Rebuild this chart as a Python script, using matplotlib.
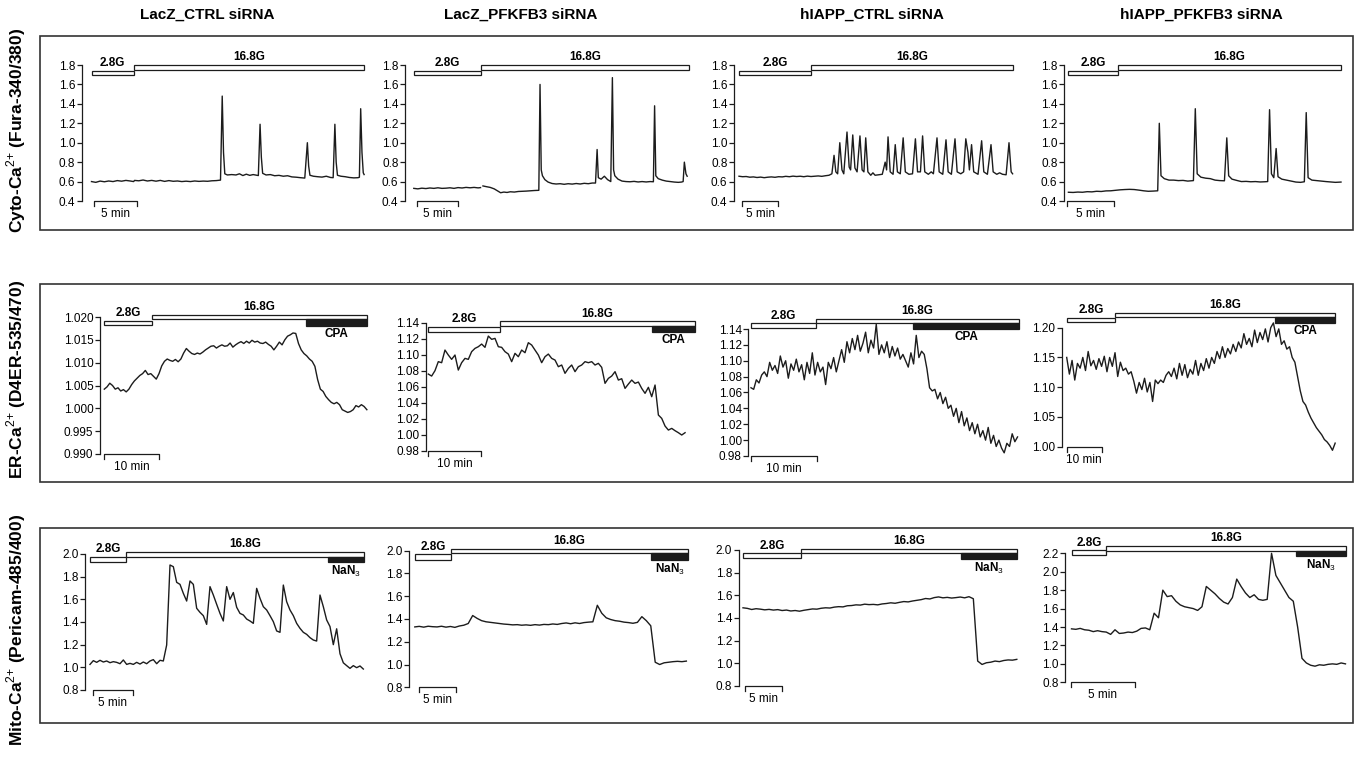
import numpy as np
import matplotlib
matplotlib.use("Agg")
import matplotlib.pyplot as plt
from matplotlib.patches import Rectangle

plt.rcParams["font.family"] = ["Liberation Sans", "DejaVu Sans"]
plt.rcParams["mathtext.fontset"] = "custom"
plt.rcParams["mathtext.rm"] = "Liberation Sans"
plt.rcParams["mathtext.bf"] = "Liberation Sans:bold"

W, H = 1362, 757

# ---------------- labels ----------------
COLUMN_TITLES = ["LacZ_CTRL siRNA", "LacZ_PFKFB3 siRNA", "hIAPP_CTRL siRNA", "hIAPP_PFKFB3 siRNA"]
ROW_LABELS = [r"Cyto-Ca$^{2{+}}$ (Fura-340/380)", r"ER-Ca$^{2{+}}$ (D4ER-535/470)",
              r"Mito-Ca$^{2{+}}$ (Pericam-485/400)"]
DRUG_LABELS = [None, "CPA", r"NaN$_3$"]
SCALE_MIN = [5, 10, 5]

# ---------------- y ticks ----------------
CYTO_TICKS = [0.4, 0.6, 0.8, 1.0, 1.2, 1.4, 1.6, 1.8]
ER_TICKS_A = [0.990, 0.995, 1.000, 1.005, 1.010, 1.015, 1.020]
ER_TICKS_B = [0.98, 1.00, 1.02, 1.04, 1.06, 1.08, 1.10, 1.12, 1.14]
ER_TICKS_C = [1.00, 1.05, 1.10, 1.15, 1.20]
MITO_TICKS_A = [0.8, 1.0, 1.2, 1.4, 1.6, 1.8, 2.0]
MITO_TICKS_B = [0.8, 1.0, 1.2, 1.4, 1.6, 1.8, 2.0, 2.2]

# ---------------- protocol timing (min): 2.8G end, bar end, drug start ----------------
CYTO_G28_END = [4.9, 8.33, 10.0, 5.3]
CYTO_BAR_END = [31.7, 34.2, 38.0, 29.0]
ER_G28_END = [8.8, 13.6, 9.8, 13.9]
ER_BAR_END = [48.0, 50.9, 40.4, 76.7]
ER_CPA_START = [36.8, 42.6, 24.5, 59.6]
MITO_G28_END = [4.6, 5.0, 7.8, 2.7]
MITO_BAR_END = [34.8, 37.3, 37.0, 21.15]
MITO_NAN3_START = [30.2, 32.3, 29.4, 17.3]

# ---------------- cytosolic traces (time min, ratio) ----------------
CYTO_LACZ_CTRL = [
    (0.0, 0.600), (0.5, 0.592), (1.0, 0.605), (1.5, 0.598), (2.0, 0.606), (2.5, 0.600),
    (3.0, 0.610), (3.5, 0.604), (4.0, 0.612), (4.5, 0.606), (4.9, 0.600), (5.0, 0.612),
    (5.5, 0.608), (6.0, 0.616), (6.5, 0.606), (7.0, 0.612), (7.5, 0.604), (8.0, 0.612),
    (8.5, 0.602), (9.0, 0.610), (9.5, 0.603), (10.0, 0.606), (10.5, 0.600), (11.0, 0.604),
    (11.5, 0.600), (12.0, 0.606), (12.5, 0.602), (13.0, 0.605), (13.5, 0.603), (14.0, 0.608),
    (14.5, 0.610), (15.0, 0.615), (15.2, 1.480), (15.35, 0.900), (15.5, 0.680), (15.8, 0.668),
    (16.3, 0.672), (16.8, 0.668), (17.2, 0.680), (17.6, 0.662), (18.0, 0.676), (18.4, 0.664),
    (18.8, 0.672), (19.4, 0.662), (19.6, 1.190), (19.75, 0.850), (19.9, 0.685), (20.3, 0.668),
    (20.8, 0.672), (21.3, 0.660), (21.8, 0.664), (22.3, 0.655), (22.8, 0.660), (23.3, 0.648),
    (23.8, 0.645), (24.3, 0.640), (24.8, 0.636), (25.1, 1.000), (25.25, 0.760), (25.4, 0.665),
    (25.8, 0.655), (26.3, 0.650), (26.8, 0.646), (27.3, 0.655), (27.8, 0.642), (28.1, 0.640),
    (28.3, 1.190), (28.45, 0.800), (28.6, 0.665), (29.0, 0.655), (29.5, 0.650), (30.0, 0.642),
    (30.5, 0.638), (31.0, 0.640), (31.15, 0.645), (31.3, 1.350), (31.45, 0.900), (31.6, 0.690),
    (31.7, 0.672),
]
CYTO_LACZ_PFKFB3 = [
    (0.0, 0.530), (0.5, 0.525), (1.0, 0.532), (1.5, 0.528), (2.0, 0.534), (2.5, 0.530),
    (3.0, 0.536), (3.5, 0.530), (4.0, 0.532), (4.5, 0.536), (5.0, 0.530), (5.5, 0.538),
    (6.0, 0.534), (6.5, 0.540), (7.0, 0.536), (7.5, 0.540), (8.0, 0.535), (8.3, 0.538),
    (8.45, np.nan), (8.6, 0.555), (9.0, 0.548), (9.5, 0.540), (10.0, 0.525), (10.4, 0.505),
    (10.8, 0.485), (11.2, 0.492), (11.6, 0.488), (12.0, 0.495), (12.5, 0.492), (13.0, 0.498),
    (13.5, 0.500), (14.0, 0.502), (14.5, 0.505), (15.0, 0.508), (15.55, 0.510), (15.7, 1.600),
    (15.85, 0.720), (16.0, 0.660), (16.3, 0.620), (16.7, 0.595), (17.2, 0.580), (17.7, 0.575),
    (18.2, 0.578), (18.7, 0.572), (19.2, 0.578), (19.7, 0.574), (20.2, 0.580), (20.7, 0.575),
    (21.2, 0.582), (21.7, 0.578), (22.2, 0.585), (22.6, 0.585), (22.8, 0.930), (22.95, 0.640),
    (23.3, 0.625), (23.7, 0.655), (24.1, 0.620), (24.5, 0.600), (24.7, 1.670), (24.85, 0.720),
    (25.0, 0.660), (25.4, 0.625), (25.9, 0.605), (26.4, 0.600), (26.9, 0.598), (27.4, 0.602),
    (27.9, 0.596), (28.4, 0.600), (28.9, 0.596), (29.4, 0.600), (29.8, 0.598), (29.95, 1.380),
    (30.1, 0.660), (30.4, 0.630), (30.9, 0.615), (31.4, 0.605), (31.9, 0.600), (32.4, 0.595),
    (32.9, 0.592), (33.3, 0.595), (33.5, 0.600), (33.65, 0.800), (33.85, 0.680), (34.0, 0.655),
]
CYTO_HIAPP_CTRL = [
    (0.0, 0.655), (0.5, 0.650), (1.0, 0.652), (1.5, 0.645), (2.0, 0.648), (2.5, 0.642),
    (3.0, 0.646), (3.5, 0.640), (4.0, 0.645), (4.5, 0.648), (5.0, 0.644), (5.5, 0.650),
    (6.0, 0.648), (6.5, 0.654), (7.0, 0.650), (7.5, 0.656), (8.0, 0.652), (8.5, 0.655),
    (9.0, 0.650), (9.5, 0.656), (10.0, 0.652), (10.5, 0.655), (11.0, 0.658), (11.5, 0.654),
    (12.0, 0.660), (12.5, 0.665), (12.9, 0.680), (13.2, 0.870), (13.45, 0.700), (13.7, 0.680),
    (14.0, 1.000), (14.3, 0.720), (14.55, 0.680), (15.0, 1.110), (15.3, 0.750), (15.5, 0.720),
    (15.8, 1.080), (16.1, 0.740), (16.4, 0.700), (16.8, 1.070), (17.1, 0.720), (17.35, 0.700),
    (17.6, 1.050), (17.9, 0.700), (18.3, 0.665), (18.6, 0.690), (18.9, 0.665), (19.4, 0.670),
    (19.9, 0.675), (20.3, 0.800), (20.5, 0.720), (20.7, 1.060), (21.0, 0.700), (21.4, 0.675),
    (21.7, 0.980), (22.0, 0.700), (22.4, 0.680), (22.8, 1.050), (23.1, 0.700), (23.6, 0.675),
    (24.1, 0.680), (24.5, 1.040), (24.8, 0.700), (25.2, 0.700), (25.5, 1.070), (25.8, 0.700),
    (26.3, 0.675), (26.7, 0.700), (27.0, 0.680), (27.5, 1.050), (27.8, 0.700), (28.3, 0.675),
    (28.75, 1.030), (29.05, 0.700), (29.5, 0.675), (30.0, 1.040), (30.3, 0.700), (30.8, 0.680),
    (31.2, 0.700), (31.5, 1.040), (31.8, 0.900), (32.0, 0.720), (32.3, 0.980), (32.6, 0.700),
    (33.2, 0.675), (33.7, 1.020), (34.0, 0.700), (34.5, 0.675), (35.0, 0.980), (35.3, 0.700),
    (35.8, 0.675), (36.2, 0.690), (36.6, 0.675), (37.1, 0.670), (37.5, 1.000), (37.8, 0.700),
    (38.0, 0.680),
]
CYTO_HIAPP_PFKFB3 = [
    (0.0, 0.490), (0.5, 0.488), (1.0, 0.492), (1.5, 0.490), (2.0, 0.496), (2.5, 0.494),
    (3.0, 0.500), (3.5, 0.498), (4.0, 0.504), (4.5, 0.505), (5.0, 0.510), (5.5, 0.515),
    (6.0, 0.518), (6.5, 0.520), (7.0, 0.518), (7.5, 0.512), (8.0, 0.505), (8.5, 0.500),
    (9.0, 0.502), (9.5, 0.505), (9.67, 1.200), (9.85, 0.660), (10.2, 0.630), (10.7, 0.615),
    (11.2, 0.615), (11.7, 0.610), (12.2, 0.612), (12.7, 0.605), (13.3, 0.610), (13.5, 1.350),
    (13.7, 0.680), (14.1, 0.645), (14.6, 0.635), (15.1, 0.630), (15.6, 0.615), (16.1, 0.610),
    (16.6, 0.608), (16.85, 1.050), (17.05, 0.660), (17.4, 0.625), (17.9, 0.612), (18.4, 0.600),
    (18.9, 0.602), (19.4, 0.598), (19.9, 0.600), (20.4, 0.596), (20.9, 0.598), (21.2, 0.600),
    (21.4, 1.340), (21.6, 0.680), (21.85, 0.640), (22.1, 0.940), (22.3, 0.650), (22.7, 0.625),
    (23.2, 0.615), (23.7, 0.605), (24.2, 0.595), (24.7, 0.592), (25.1, 0.598), (25.3, 1.310),
    (25.5, 0.640), (25.9, 0.615), (26.4, 0.610), (26.9, 0.605), (27.4, 0.600), (27.9, 0.596),
    (28.4, 0.592), (29.0, 0.595),
]

# ---------------- ER traces (evenly sampled over the given duration) ----------------
ER_DURATION = [48.0, 49.0, 40.2, 76.7]
ER_LACZ_CTRL = [
    1.0042, 1.0047, 1.0055, 1.0050, 1.0042, 1.0045, 1.0038, 1.0041, 1.0036, 1.0042,
    1.0052, 1.0060, 1.0066, 1.0072, 1.0076, 1.0083, 1.0074, 1.0076, 1.0070, 1.0064,
    1.0076, 1.0093, 1.0103, 1.0108, 1.0105, 1.0103, 1.0107, 1.0102, 1.0108, 1.0121,
    1.0131, 1.0125, 1.0120, 1.0118, 1.0121, 1.0119, 1.0123, 1.0128, 1.0132, 1.0136,
    1.0137, 1.0132, 1.0136, 1.0139, 1.0136, 1.0137, 1.0143, 1.0134, 1.0139, 1.0143,
    1.0146, 1.0142, 1.0147, 1.0143, 1.0149, 1.0145, 1.0147, 1.0143, 1.0142, 1.0145,
    1.0140, 1.0136, 1.0128, 1.0136, 1.0145, 1.0139, 1.0150, 1.0158, 1.0161, 1.0165,
    1.0164, 1.0142, 1.0128, 1.0120, 1.0115, 1.0108, 1.0103, 1.0092, 1.0063, 1.0042,
    1.0037, 1.0026, 1.0019, 1.0013, 1.0010, 1.0013, 1.0008, 0.9997, 0.9994, 0.9991,
    0.9993, 0.9997, 1.0006, 1.0003, 1.0008, 1.0004, 0.9997,
]
ER_LACZ_PFKFB3 = [
    1.0758, 1.0733, 1.0800, 1.0913, 1.0900, 1.1058, 1.0996, 1.0942, 1.0996, 1.0808,
    1.0900, 1.0954, 1.0942, 1.1038, 1.1079, 1.1100, 1.1133, 1.1092, 1.1233, 1.1192,
    1.1204, 1.1100, 1.1092, 1.1038, 1.1008, 1.0913, 1.1017, 1.0975, 1.1058, 1.1025,
    1.1150, 1.1121, 1.1058, 1.0996, 1.0900, 1.0975, 1.1008, 1.0954, 1.0933, 1.0850,
    1.0871, 1.0767, 1.0829, 1.0871, 1.0788, 1.0850, 1.0871, 1.0913, 1.0900, 1.0913,
    1.0871, 1.0892, 1.0842, 1.0642, 1.0704, 1.0733, 1.0788, 1.0683, 1.0700, 1.0579,
    1.0633, 1.0683, 1.0642, 1.0658, 1.0579, 1.0517, 1.0592, 1.0475, 1.0621, 1.0246,
    1.0204, 1.0108, 1.0058, 1.0079, 1.0050, 1.0025, 0.9996, 1.0025,
]
ER_HIAPP_CTRL = [
    1.066, 1.064, 1.076, 1.072, 1.082, 1.086, 1.080, 1.098, 1.088, 1.094,
    1.084, 1.106, 1.092, 1.100, 1.078, 1.096, 1.088, 1.102, 1.086, 1.095,
    1.076, 1.098, 1.084, 1.110, 1.082, 1.098, 1.086, 1.092, 1.070, 1.098,
    1.090, 1.104, 1.086, 1.100, 1.114, 1.098, 1.124, 1.110, 1.128, 1.114,
    1.132, 1.112, 1.122, 1.136, 1.110, 1.126, 1.116, 1.146, 1.108, 1.120,
    1.110, 1.124, 1.104, 1.118, 1.106, 1.116, 1.102, 1.108, 1.100, 1.092,
    1.110, 1.096, 1.132, 1.104, 1.112, 1.108, 1.090, 1.066, 1.062, 1.064,
    1.052, 1.060, 1.046, 1.054, 1.040, 1.044, 1.030, 1.040, 1.022, 1.036,
    1.018, 1.028, 1.012, 1.022, 1.008, 1.020, 1.004, 1.012, 1.000, 1.016,
    0.996, 1.006, 0.992, 1.000, 0.990, 0.984, 0.996, 0.992, 1.008, 0.998,
    1.004,
]
ER_HIAPP_PFKFB3 = [
    1.150, 1.122, 1.145, 1.112, 1.140, 1.132, 1.150, 1.128, 1.160, 1.136,
    1.145, 1.130, 1.148, 1.135, 1.152, 1.126, 1.150, 1.135, 1.158, 1.118,
    1.142, 1.128, 1.132, 1.122, 1.126, 1.110, 1.090, 1.108, 1.096, 1.115,
    1.092, 1.108, 1.076, 1.112, 1.106, 1.112, 1.108, 1.120, 1.126, 1.118,
    1.132, 1.114, 1.140, 1.120, 1.138, 1.116, 1.130, 1.122, 1.145, 1.120,
    1.140, 1.128, 1.148, 1.132, 1.150, 1.140, 1.160, 1.148, 1.168, 1.150,
    1.165, 1.156, 1.172, 1.160, 1.176, 1.166, 1.190, 1.172, 1.182, 1.168,
    1.196, 1.175, 1.192, 1.180, 1.198, 1.176, 1.200, 1.208, 1.185, 1.198,
    1.172, 1.178, 1.164, 1.168, 1.150, 1.142, 1.118, 1.094, 1.076, 1.070,
    1.058, 1.048, 1.040, 1.032, 1.026, 1.020, 1.012, 1.008, 1.002, 0.994,
    1.006,
]

# ---------------- mitochondrial traces (evenly sampled) ----------------
MITO_DURATION = [34.73, 37.1, 37.0, 21.14]
MITO_LACZ_CTRL = [
    1.026, 1.059, 1.044, 1.062, 1.047, 1.056, 1.041, 1.050, 1.044, 1.032,
    1.065, 1.026, 1.035, 1.026, 1.044, 1.029, 1.047, 1.032, 1.056, 1.068,
    1.032, 1.062, 1.056, 1.197, 1.903, 1.888, 1.750, 1.732, 1.653, 1.585,
    1.762, 1.732, 1.521, 1.485, 1.456, 1.379, 1.712, 1.638, 1.556, 1.476,
    1.409, 1.712, 1.600, 1.660, 1.530, 1.476, 1.462, 1.426, 1.409, 1.388,
    1.697, 1.609, 1.535, 1.506, 1.456, 1.403, 1.321, 1.309, 1.726, 1.579,
    1.506, 1.456, 1.388, 1.344, 1.309, 1.291, 1.262, 1.241, 1.232, 1.638,
    1.535, 1.418, 1.360, 1.200, 1.340, 1.120, 1.040, 1.015, 0.991, 1.015,
    0.997, 1.012, 0.985,
]
MITO_LACZ_PFKFB3 = [
    1.330, 1.335, 1.328, 1.336, 1.332, 1.330, 1.336, 1.328, 1.334, 1.326,
    1.338, 1.345, 1.360, 1.430, 1.405, 1.385, 1.375, 1.370, 1.365, 1.360,
    1.355, 1.352, 1.348, 1.350, 1.345, 1.348, 1.344, 1.350, 1.346, 1.352,
    1.350, 1.356, 1.352, 1.360, 1.365, 1.358, 1.366, 1.360, 1.368, 1.372,
    1.375, 1.520, 1.450, 1.410, 1.395, 1.385, 1.380, 1.372, 1.368, 1.362,
    1.370, 1.420, 1.385, 1.340, 1.020, 1.000, 1.015, 1.020, 1.025, 1.028,
    1.025, 1.030,
]
MITO_HIAPP_CTRL = [
    1.490, 1.485, 1.475, 1.482, 1.478, 1.472, 1.476, 1.470, 1.474, 1.466,
    1.470, 1.462, 1.466, 1.460, 1.468, 1.474, 1.480, 1.478, 1.486, 1.490,
    1.488, 1.496, 1.500, 1.498, 1.508, 1.510, 1.516, 1.514, 1.522, 1.518,
    1.520, 1.516, 1.524, 1.528, 1.534, 1.530, 1.538, 1.545, 1.542, 1.550,
    1.556, 1.562, 1.572, 1.568, 1.580, 1.586, 1.578, 1.582, 1.576, 1.580,
    1.585, 1.578, 1.588, 1.570, 1.020, 0.990, 1.005, 1.010, 1.020, 1.015,
    1.025, 1.030, 1.028, 1.035,
]
MITO_HIAPP_PFKFB3 = [
    1.380, 1.375, 1.385, 1.370, 1.365, 1.350, 1.360, 1.350, 1.345, 1.320,
    1.370, 1.330, 1.335, 1.345, 1.340, 1.355, 1.385, 1.390, 1.370, 1.550,
    1.500, 1.800, 1.730, 1.740, 1.680, 1.640, 1.620, 1.610, 1.600, 1.580,
    1.620, 1.840, 1.800, 1.760, 1.710, 1.670, 1.650, 1.720, 1.920, 1.840,
    1.770, 1.720, 1.750, 1.700, 1.690, 1.700, 2.200, 1.960, 1.880, 1.800,
    1.720, 1.680, 1.400, 1.060, 1.010, 0.985, 0.975, 0.990, 0.985, 0.995,
    1.000, 0.995, 1.010, 1.000,
]

# ---------------- layout in pixels (spine x, trace start x, px per min, top tick y, bottom tick y,
#                  upper bar, lower bar, black bar offsets from top tick, scale bar start x) ----------------
POS = [
    [(81.7, 91.5, 8.6, 65, 201, (-0.5, 4.5), (5.5, 10), None, 94),
     (405, 413.8, 8.04, 65, 201, (-0.5, 4.5), (5.5, 10), None, 417.4),
     (734, 739, 7.2, 65, 201, (-0.5, 4.5), (5.5, 10), None, 742),
     (1064, 1068.4, 9.4, 65, 201, (-0.5, 4.5), (5.5, 10), None, 1067)],
    [(100, 104.3, 5.47, 317, 454, (-2, 2.3), (3.7, 8.3), (2.3, 9), 104.3),
     (425.7, 428.3, 5.24, 322.7, 450.7, (-1.4, 3.3), (4, 9), (3.3, 9.3), 428.3),
     (748.3, 751, 6.63, 329, 456, (-10.3, -5.7), (-5.7, -0.7), (-5.7, 0), 751),
     (1061.7, 1066.7, 3.5, 327.7, 446.7, (-15, -10.4), (-10, -5.4), (-10.4, -5), 1066.7)],
    [(85, 90, 7.87, 554, 690, (-2.3, 2.7), (2.7, 7.7), (2.7, 8.3), 93.3),
     (409.4, 414.8, 7.32, 550.6, 687.3, (-1.7, 2.7), (3.4, 9), (2.7, 9), 419.2),
     (738.7, 743, 7.4, 550, 686, (-1, 3.3), (3.3, 8.3), (3.3, 9), 745.2),
     (1065, 1071.5, 12.96, 553.3, 682.3, (-7.6, -2.6), (-3.3, 2), (-2.6, 2.5), 1070.6)],
]
ROW_BOX = [(36, 230), (284, 482), (528, 723)]
TITLE_X = [207, 521, 872, 1201]
ROW_LABEL_Y = [130, 379, 630]

INK = "#1c1c1c"


def draw_panel(fig, pos, t, v, ticks, fmt, g28_end, bar_end, drug_start, drug_label, scale_min):
    xs, x0, k, yt, yb, up, lo, blk, sx = pos
    t_end = max(np.nanmax(t), bar_end)
    xe = x0 + k * t_end
    ax = fig.add_axes([xs / W, 1 - yb / H, (xe - xs) / W, (yb - yt) / H])
    vb, vt = ticks[0], ticks[-1]
    u = (vt - vb) / (yb - yt)  # data units per pixel
    ax.set_xlim(-(x0 - xs) / k, t_end)
    ax.set_ylim(vb, vt)
    ax.patch.set_visible(False)

    ax.plot(t, v, color=INK, lw=1.0, clip_on=False)

    for s in ["top", "right", "bottom"]:
        ax.spines[s].set_visible(False)
    ax.spines["left"].set_linewidth(0.9)
    ax.spines["left"].set_color(INK)
    ax.set_xticks([])
    ax.set_yticks(ticks)
    ax.set_yticklabels([fmt.format(x) for x in ticks])
    ax.tick_params(axis="y", length=3.5, width=0.9, pad=1.2, labelsize=8.5, color=INK)

    def yy(off):
        return vt - off * u

    # stimulus bars
    ax.add_patch(Rectangle((0, yy(lo[1])), g28_end, yy(lo[0]) - yy(lo[1]),
                           fc="white", ec=INK, lw=0.9, clip_on=False))
    ax.add_patch(Rectangle((g28_end, yy(up[1])), bar_end - g28_end, yy(up[0]) - yy(up[1]),
                           fc="white", ec=INK, lw=0.9, clip_on=False))
    ax.text(g28_end / 2, yy(lo[0]) + 1.5 * u, "2.8G", ha="center", va="bottom",
            fontsize=8.5, fontweight="bold")
    ax.text((g28_end + bar_end) / 2, yy(up[0]) + 1.5 * u, "16.8G", ha="center", va="bottom",
            fontsize=8.5, fontweight="bold")
    if drug_start is not None:
        ax.add_patch(Rectangle((drug_start, yy(blk[1])), bar_end - drug_start, yy(blk[0]) - yy(blk[1]),
                               fc=INK, ec=INK, lw=0.9, clip_on=False))
        ax.text((drug_start + bar_end) / 2, yy(blk[1]) - 2 * u, drug_label, ha="center", va="top",
                fontsize=8.5, fontweight="bold")

    # time scale bar
    s0 = (sx - x0) / k
    ax.plot([s0, s0, s0 + scale_min, s0 + scale_min], [vb - 5 * u, vb, vb, vb - 5 * u],
            color=INK, lw=0.9, clip_on=False)
    ax.text(s0 + scale_min / 2, vb - 13 * u, f"{scale_min} min", ha="center", va="center",
            fontsize=8.5)


def even_time(values, duration):
    return np.linspace(0, duration, len(values))


fig = plt.figure(figsize=(W / 100, H / 100), dpi=100)

for i, title in enumerate(COLUMN_TITLES):
    fig.text(TITLE_X[i] / W, 1 - 15 / H, title, ha="center", va="center",
             fontsize=11, fontweight="bold")

for r, label in enumerate(ROW_LABELS):
    fig.text(16 / W, 1 - ROW_LABEL_Y[r] / H, label, rotation=90, ha="center", va="center",
             fontsize=12.5, fontweight="bold")
    top, bot = ROW_BOX[r]
    fig.add_artist(Rectangle((40 / W, 1 - bot / H), (1353 - 40) / W, (bot - top) / H,
                             transform=fig.transFigure, fill=False, ec="#333333", lw=1.2))

# row 1: cytosolic Ca2+
cyto = [CYTO_LACZ_CTRL, CYTO_LACZ_PFKFB3, CYTO_HIAPP_CTRL, CYTO_HIAPP_PFKFB3]
for c in range(4):
    t = np.array([p[0] for p in cyto[c]])
    v = np.array([p[1] for p in cyto[c]])
    draw_panel(fig, POS[0][c], t, v, CYTO_TICKS, "{:.1f}", CYTO_G28_END[c], CYTO_BAR_END[c],
               None, None, SCALE_MIN[0])

# row 2: ER Ca2+
er = [ER_LACZ_CTRL, ER_LACZ_PFKFB3, ER_HIAPP_CTRL, ER_HIAPP_PFKFB3]
er_ticks = [ER_TICKS_A, ER_TICKS_B, ER_TICKS_B, ER_TICKS_C]
er_fmt = ["{:.3f}", "{:.2f}", "{:.2f}", "{:.2f}"]
for c in range(4):
    draw_panel(fig, POS[1][c], even_time(er[c], ER_DURATION[c]), er[c], er_ticks[c], er_fmt[c],
               ER_G28_END[c], ER_BAR_END[c], ER_CPA_START[c], DRUG_LABELS[1], SCALE_MIN[1])

# row 3: mitochondrial Ca2+
mito = [MITO_LACZ_CTRL, MITO_LACZ_PFKFB3, MITO_HIAPP_CTRL, MITO_HIAPP_PFKFB3]
mito_ticks = [MITO_TICKS_A, MITO_TICKS_A, MITO_TICKS_A, MITO_TICKS_B]
for c in range(4):
    draw_panel(fig, POS[2][c], even_time(mito[c], MITO_DURATION[c]), mito[c], mito_ticks[c], "{:.1f}",
               MITO_G28_END[c], MITO_BAR_END[c], MITO_NAN3_START[c], DRUG_LABELS[2], SCALE_MIN[2])

fig.savefig("out.png", dpi=100)
